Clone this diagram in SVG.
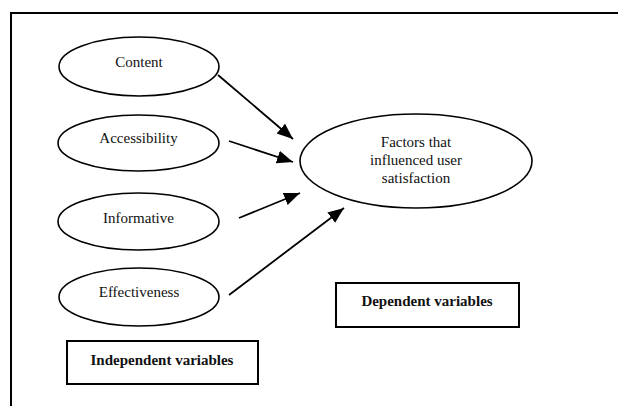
<svg xmlns="http://www.w3.org/2000/svg" width="618" height="406" viewBox="0 0 618 406">
<style>
.el{fill:#fff;stroke:#000;stroke-width:1.6}
.bx{fill:#fff;stroke:#000;stroke-width:2}
text{font-family:'Liberation Serif',Times,serif;font-size:15px;fill:#111;text-anchor:middle}
.b{font-weight:bold}
.c{stroke:#000;stroke-width:1.8;fill:none;marker-end:url(#ah)}
</style>
<defs>
<marker id="ah" markerUnits="userSpaceOnUse" markerWidth="18" markerHeight="14" refX="16" refY="6.5" orient="auto">
<path d="M0,0 L16,6.5 L0,13 Z" fill="#000"/>
</marker>
</defs>
<rect width="618" height="406" fill="#fff"/>
<g id="frame">
<path d="M11,406 L11,13 L618,13" fill="none" stroke="#000" stroke-width="2"/>
</g>
<g id="content">
<ellipse class="el" cx="139" cy="66.5" rx="80" ry="29.5"/>
<text x="139" y="67" font-family="Liberation Serif">Content</text>
</g>
<g id="accessibility">
<ellipse class="el" cx="138.5" cy="143" rx="80.5" ry="28"/>
<text x="138.5" y="143" font-family="Liberation Serif">Accessibility</text>
</g>
<g id="informative">
<ellipse class="el" cx="138.5" cy="221.5" rx="80.5" ry="28.5"/>
<text x="138.5" y="223" font-family="Liberation Serif">Informative</text>
</g>
<g id="effectiveness">
<ellipse class="el" cx="139" cy="297" rx="80" ry="29"/>
<text x="139" y="297" font-family="Liberation Serif">Effectiveness</text>
</g>
<g id="factors">
<ellipse class="el" cx="416" cy="161" rx="116" ry="47"/>
<text x="416" y="147" font-family="Liberation Serif">Factors that</text>
<text x="416" y="165" font-family="Liberation Serif">influenced user</text>
<text x="416" y="183" font-family="Liberation Serif">satisfaction</text>
</g>
<g id="dependent">
<rect class="bx" x="336" y="283" width="183" height="44"/>
<text class="b" x="427" y="306" font-family="Liberation Serif">Dependent variables</text>
</g>
<g id="independent">
<rect class="bx" x="67" y="341" width="191" height="43"/>
<text class="b" x="162" y="365" font-family="Liberation Serif">Independent variables</text>
</g>
<g id="connectors">
<line class="c" x1="218" y1="75" x2="293" y2="139"/>
<line class="c" x1="229" y1="141" x2="293" y2="162"/>
<line class="c" x1="239" y1="218" x2="300" y2="193"/>
<line class="c" x1="229" y1="295" x2="344" y2="208"/>
</g>
</svg>
